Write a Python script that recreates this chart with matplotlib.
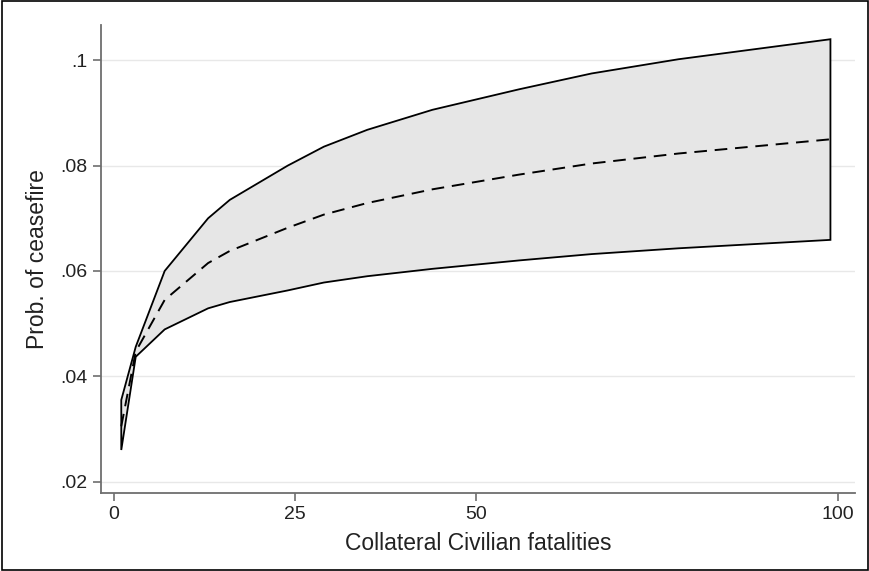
import matplotlib
matplotlib.use('Agg')
import matplotlib.pyplot as plt
from matplotlib.patches import Rectangle

# fatalities grid and predicted probabilities
fatalities = [1, 3, 7, 13, 16, 24, 29, 35, 44, 56, 66, 78, 99]
upper = [0.0355, 0.0456, 0.0600, 0.0700, 0.0735, 0.0800, 0.0836, 0.0868,
         0.0906, 0.0945, 0.0975, 0.1002, 0.1040]
lower = [0.0260, 0.0437, 0.0489, 0.0529, 0.0541, 0.0563, 0.0578, 0.0590,
         0.0604, 0.0620, 0.0632, 0.0643, 0.0659]
mean = [0.0305, 0.0447, 0.0545, 0.0615, 0.0638, 0.0682, 0.0707, 0.0729,
        0.0755, 0.0783, 0.0804, 0.0823, 0.0850]

x_ticks = [0, 25, 50, 100]
y_ticks = [0.02, 0.04, 0.06, 0.08, 0.1]
y_tick_labels = ['.02', '.04', '.06', '.08', '.1']

plt.rcParams['font.family'] = ['Liberation Sans', 'DejaVu Sans']

fig = plt.figure(figsize=(8.7, 5.71), dpi=100)
ax = fig.add_axes([0.1161, 0.1361, 0.8667, 0.8201])

# confidence band: filled polygon with black outline
band_x = fatalities + fatalities[::-1] + [fatalities[0]]
band_y = upper + lower[::-1] + [upper[0]]
ax.fill(band_x, band_y, facecolor='#e6e6e6', edgecolor='black', linewidth=1.3, zorder=2)
ax.plot(fatalities, mean, color='black', linestyle=(0, (6.5, 4)), linewidth=1.4, zorder=3)

ax.set_xlim(-1.8, 102.4)
ax.set_ylim(0.01778, 0.1067)
ax.set_xticks(x_ticks)
ax.set_yticks(y_ticks)
ax.set_yticklabels(y_tick_labels)
ax.grid(axis='y', color='#e8e8e8', linewidth=1.0, zorder=0)
ax.set_axisbelow(True)

for side in ['top', 'right']:
    ax.spines[side].set_visible(False)
for side in ['left', 'bottom']:
    ax.spines[side].set_color('#6e6e6e')
    ax.spines[side].set_linewidth(1.3)
ax.tick_params(axis='both', colors='#6e6e6e', length=6, width=1.2,
               labelsize=14, labelcolor='#222222')

ax.set_xlabel('Collateral Civilian fatalities', fontsize=16.5, color='#222222', labelpad=6)
ax.set_ylabel('Prob. of ceasefire', fontsize=16.5, color='#222222', labelpad=8)

# outer frame round the whole figure
fig.patches.append(Rectangle((0.002, 0.002), 0.996, 0.996, transform=fig.transFigure,
                             fill=False, edgecolor='black', linewidth=1.2))

fig.savefig('out.png', dpi=100)
